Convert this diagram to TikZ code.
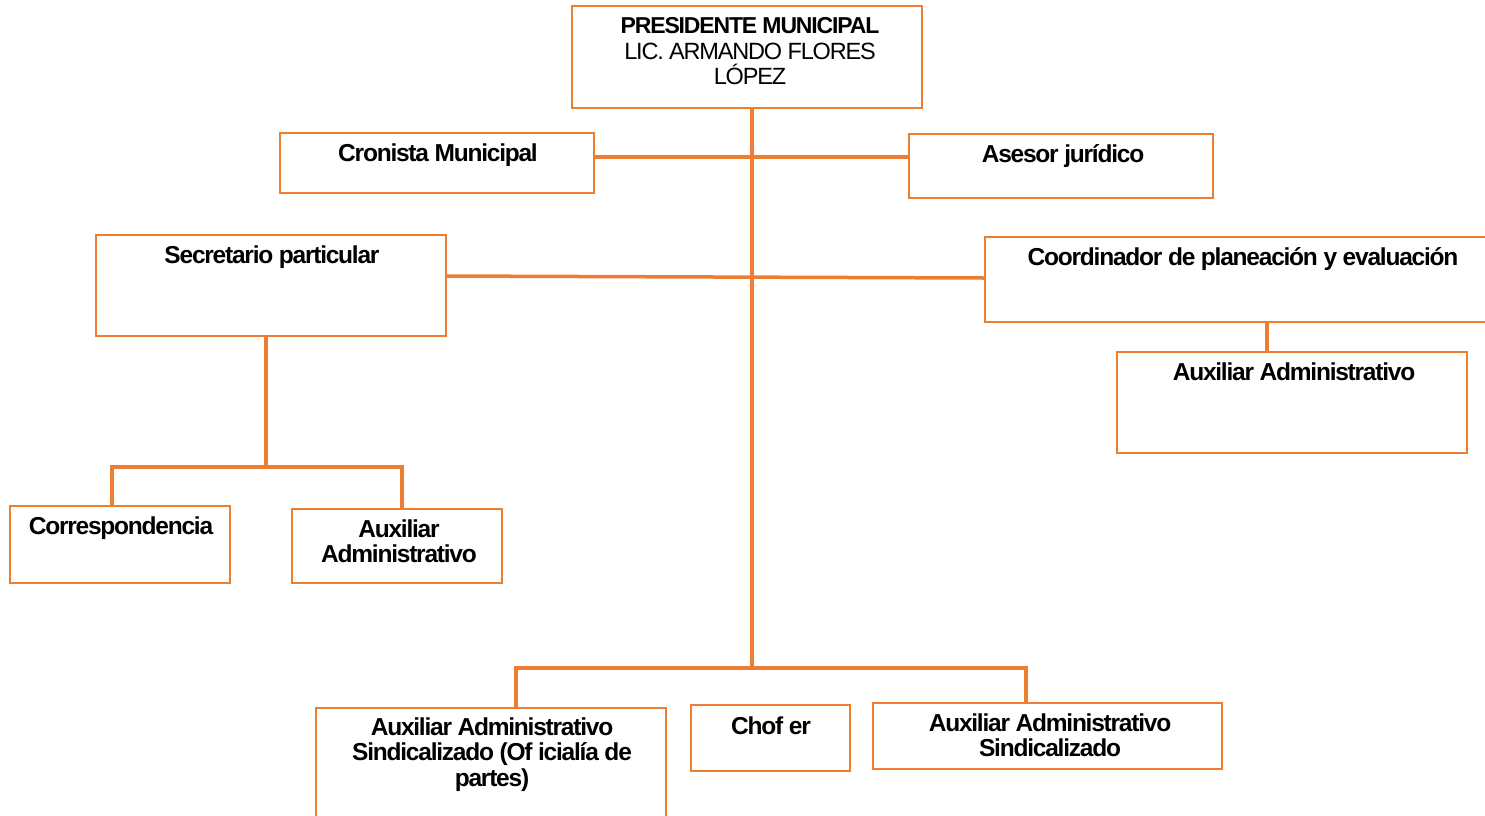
\documentclass[tikz,border=0pt]{standalone}
\usepackage{fontspec}
\setmainfont{Liberation Sans}[LetterSpace=-5]
\definecolor{org}{HTML}{ED7D31}
\begin{document}
\begin{tikzpicture}[x=1pt,y=-1pt,
  box/.style={draw=org, line width=1.3pt, fill=none},
  conn/.style={draw=org, line width=3.5pt},
  lbl/.style={font=\fontsize{24.5}{27}\selectfont\bfseries, align=center, inner sep=0pt, anchor=base},
  ttl/.style={font=\fontsize{23}{26}\selectfont\bfseries, align=center, inner sep=0pt, anchor=base},
  lblr/.style={font=\fontsize{23.5}{26}\selectfont, align=center, inner sep=0pt, anchor=base}]
\useasboundingbox (0,0) rectangle (1485,815);
% boxes
\draw[box] (572,6) rectangle (922,108);
\coordinate (pres) at (752,108);
\draw[box] (280,133) rectangle (594,193);
\draw[box] (909,134) rectangle (1213,198);
\draw[box] (96,235) rectangle (446,336);
\draw[box] (985,237) rectangle (1492,322);
\draw[box] (1117,352) rectangle (1467,453);
\draw[box] (10,506) rectangle (230,583);
\draw[box] (292,509) rectangle (502,583);
\draw[box] (316,708) rectangle (666,830);
\draw[box] (691,705) rectangle (850,771);
\draw[box] (873,703) rectangle (1222,769);
% named anchor coordinates
\coordinate (cron) at (594,157);
\coordinate (ases) at (909,157);
\coordinate (secr) at (446,276);
\coordinate (coor) at (985,278);
\coordinate (coorb) at (1267,322);
\coordinate (auxr) at (1267,352);
\coordinate (secb) at (266,336);
\coordinate (sj) at (266,467);
\coordinate (corr) at (112,506);
\coordinate (auxl) at (402,509);
\coordinate (bj) at (752,668);
\coordinate (ofi) at (516,708);
\coordinate (sind) at (1026,703);
% connectors
\draw[conn] (pres) -- (bj);
\draw[conn] (cron) -- (ases);
\draw[conn] (secr) -- (coor);
\draw[conn] (coorb) -- (auxr);
\draw[conn] (secb) -- (sj);
\draw[conn] (corr) |- (sj) -| (auxl);
\draw[conn] (ofi) |- (bj) -| (sind);
% labels
\node[ttl] (t1) at (750,33) {PRESIDENTE MUNICIPAL};
\node[lblr] (t2) at (750,59) {LIC. ARMANDO FLORES};
\node[lblr] (t3) at (750,84) {LÓPEZ};
\node[lbl] (t4) at (438,161) {Cronista Municipal};
\node[lbl] (t5) at (1063,162) {Asesor jurídico};
\node[lbl] (t6) at (272,263) {Secretario particular};
\node[lbl] (t7) at (1243,265) {Coordinador de planeación y evaluación};
\node[lbl] (t8) at (1294,380) {Auxiliar Administrativo};
\node[lbl] (t9) at (121,534) {Correspondencia};
\node[lbl] (t10) at (399,537) {Auxiliar};
\node[lbl] (t11) at (399,562) {Administrativo};
\node[lbl] (t12) at (492,735) {Auxiliar Administrativo};
\node[lbl] (t13) at (492,760) {Sindicalizado (Of icialía de};
\node[lbl] (t14) at (492,786) {partes)};
\node[lbl] (t15) at (771,734) {Chof er};
\node[lbl] (t16) at (1050,731) {Auxiliar Administrativo};
\node[lbl] (t17) at (1050,756) {Sindicalizado};
\end{tikzpicture}
\end{document}
